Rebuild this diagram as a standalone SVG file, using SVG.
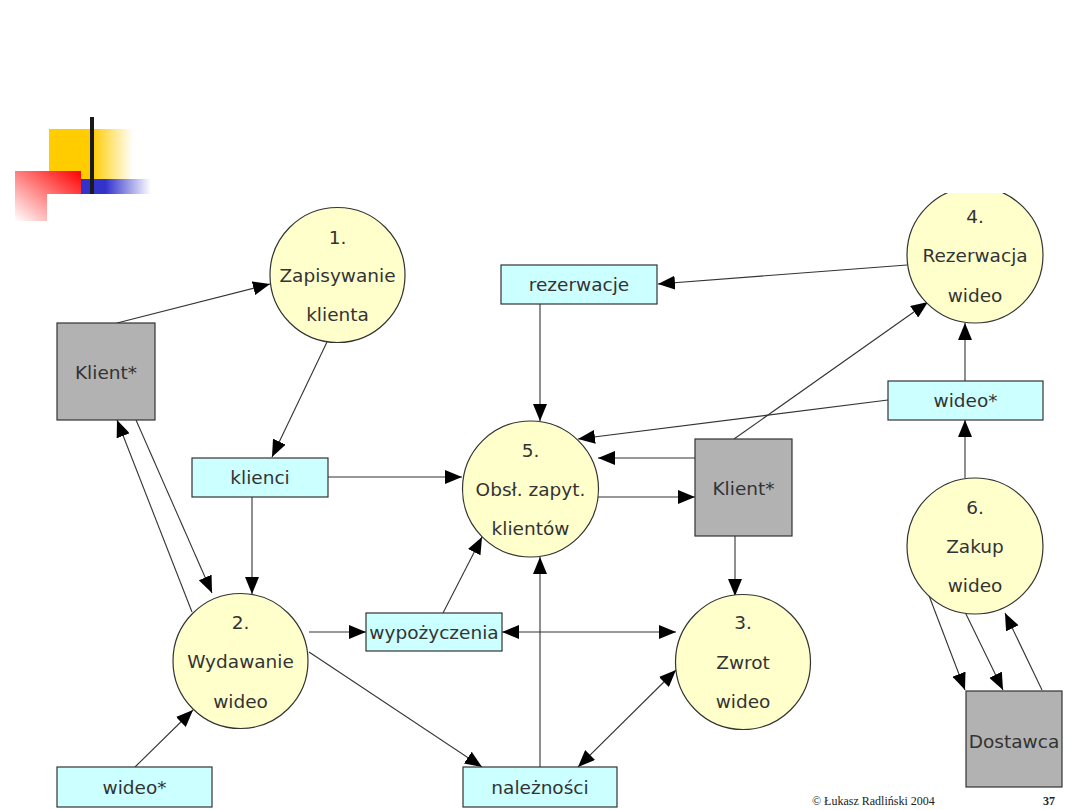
<svg xmlns="http://www.w3.org/2000/svg" width="1080" height="810" viewBox="0 0 1080 810">
<style>
.proc{fill:#ffffcc;stroke:#333;stroke-width:1.2}
.store{fill:#ccffff;stroke:#333;stroke-width:1.2}
.ext{fill:#b2b2b2;stroke:#333;stroke-width:1.2}
.t{font-family:"DejaVu Sans",Verdana,sans-serif;font-size:18.5px;fill:#333;text-anchor:middle;dominant-baseline:central}
.c line{stroke:#333;stroke-width:1.1;fill:none}
.a{marker-end:url(#ah)}
.b{marker-start:url(#ahs);marker-end:url(#ah)}
.foot{font-family:"Liberation Serif",serif;font-size:12px;fill:#222}
</style>
<defs>
<marker id="ah" markerUnits="userSpaceOnUse" markerWidth="18" markerHeight="14" refX="17" refY="7" orient="auto"><path d="M0,0 L17,7 L0,14 z" fill="#000"/></marker>
<marker id="ahs" markerUnits="userSpaceOnUse" markerWidth="18" markerHeight="14" refX="0" refY="7" orient="auto"><path d="M17,0 L0,7 L17,14 z" fill="#000"/></marker>
<linearGradient id="gy" x1="0" y1="0" x2="1" y2="0"><stop offset="0" stop-color="#ffcc00"/><stop offset="1" stop-color="#ffffff"/></linearGradient>
<linearGradient id="gb" x1="0" y1="0" x2="1" y2="0"><stop offset="0" stop-color="#3333cc"/><stop offset="0.35" stop-color="#3333cc"/><stop offset="1" stop-color="#ffffff"/></linearGradient>
<linearGradient id="gr" x1="1" y1="0" x2="0" y2="1"><stop offset="0" stop-color="#ff0000"/><stop offset="1" stop-color="#ffffff"/></linearGradient>
<clipPath id="clip4"><rect x="880" y="193" width="200" height="200"/></clipPath>
</defs>
<rect width="1080" height="810" fill="#fff"/>
<g id="decoration">
<rect x="49" y="129" width="43" height="51" fill="#ffcc00"/>
<rect x="92" y="129" width="41" height="51" fill="url(#gy)"/>
<path d="M15,171 H81 V194 H47 V221 H15 z" fill="url(#gr)"/>
<rect x="81" y="179" width="70" height="15" fill="url(#gb)"/>
<rect x="90" y="117" width="4" height="77" fill="#1a1a1a"/>
</g>
<g id="connectors" class="c">
<line class="a" x1="117" y1="323" x2="270" y2="284"/>
<line class="a" x1="327" y1="342" x2="272" y2="457"/>
<line class="a" x1="328" y1="477" x2="462" y2="477"/>
<line class="a" x1="252" y1="497" x2="252" y2="594"/>
<line class="a" x1="192" y1="612" x2="117" y2="420"/>
<line class="a" x1="136" y1="420" x2="212" y2="593"/>
<line class="a" x1="135" y1="767" x2="193" y2="710"/>
<line class="a" x1="309" y1="632" x2="366" y2="632"/>
<line class="a" x1="309" y1="652" x2="482" y2="767"/>
<line class="a" x1="443" y1="613" x2="482" y2="537"/>
<line class="b" x1="502" y1="632" x2="676" y2="632"/>
<line class="a" x1="540" y1="767" x2="540" y2="557"/>
<line class="b" x1="578" y1="767" x2="676" y2="670"/>
<line class="a" x1="540" y1="304" x2="540" y2="421"/>
<line class="a" x1="907" y1="265" x2="658" y2="284"/>
<line class="a" x1="734" y1="439" x2="928" y2="302"/>
<line class="a" x1="888" y1="400" x2="578" y2="439"/>
<line class="a" x1="965" y1="381" x2="965" y2="323"/>
<line class="a" x1="965" y1="478" x2="965" y2="420"/>
<line class="a" x1="695" y1="458" x2="598" y2="458"/>
<line class="a" x1="598" y1="497" x2="695" y2="497"/>
<line class="a" x1="735" y1="536" x2="735" y2="596"/>
<line class="a" x1="928" y1="593" x2="965" y2="690"/>
<line class="a" x1="965" y1="612" x2="1003" y2="690"/>
<line class="a" x1="1042" y1="690" x2="1005" y2="613"/>
</g>
<g id="p1"><circle class="proc" cx="337.5" cy="275" r="67.5"/><text class="t" x="337.5" y="237">1.</text><text class="t" x="337.5" y="275">Zapisywanie</text><text class="t" x="337.5" y="314">klienta</text></g>
<g id="p2"><circle class="proc" cx="240.5" cy="661" r="67.5"/><text class="t" x="240.5" y="622">2.</text><text class="t" x="240.5" y="661">Wydawanie</text><text class="t" x="240.5" y="701">wideo</text></g>
<g id="p3"><circle class="proc" cx="743" cy="662" r="67.5"/><text class="t" x="743" y="622">3.</text><text class="t" x="743" y="662">Zwrot</text><text class="t" x="743" y="701">wideo</text></g>
<g id="p4"><circle class="proc" cx="975" cy="255" r="68" clip-path="url(#clip4)"/><text class="t" x="975" y="216">4.</text><text class="t" x="975" y="255">Rezerwacja</text><text class="t" x="975" y="295">wideo</text></g>
<g id="p5"><circle class="proc" cx="530.5" cy="489" r="68"/><text class="t" x="530.5" y="450">5.</text><text class="t" x="530.5" y="489">Obsł. zapyt.</text><text class="t" x="530.5" y="528">klientów</text></g>
<g id="p6"><circle class="proc" cx="975" cy="546" r="68"/><text class="t" x="975" y="507">6.</text><text class="t" x="975" y="546">Zakup</text><text class="t" x="975" y="585">wideo</text></g>
<g id="e-klient1"><rect class="ext" x="57" y="323" width="98" height="97"/><text class="t" x="106" y="372">Klient*</text></g>
<g id="e-klient2"><rect class="ext" x="695" y="439" width="97" height="97"/><text class="t" x="743.5" y="488">Klient*</text></g>
<g id="e-dostawca"><rect class="ext" x="966" y="691" width="96" height="96"/><text class="t" x="1014" y="741">Dostawca</text></g>
<g id="s-klienci"><rect class="store" x="192" y="458" width="136" height="39"/><text class="t" x="260" y="477.5">klienci</text></g>
<g id="s-wideo1"><rect class="store" x="57" y="767" width="155" height="40"/><text class="t" x="134.5" y="787">wideo*</text></g>
<g id="s-wypozyczenia"><rect class="store" x="366" y="613" width="136" height="38"/><text class="t" x="434" y="632">wypożyczenia</text></g>
<g id="s-naleznosci"><rect class="store" x="463" y="767" width="154" height="40"/><text class="t" x="540" y="787">należności</text></g>
<g id="s-rezerwacje"><rect class="store" x="501" y="265" width="156" height="39"/><text class="t" x="579" y="284.5">rezerwacje</text></g>
<g id="s-wideo2"><rect class="store" x="888" y="381" width="155" height="39"/><text class="t" x="965.5" y="400.5">wideo*</text></g>
<g id="footer"><text class="foot" x="812" y="805">© Łukasz Radliński 2004</text><text class="foot" x="1043" y="805" font-weight="bold">37</text></g>
</svg>
